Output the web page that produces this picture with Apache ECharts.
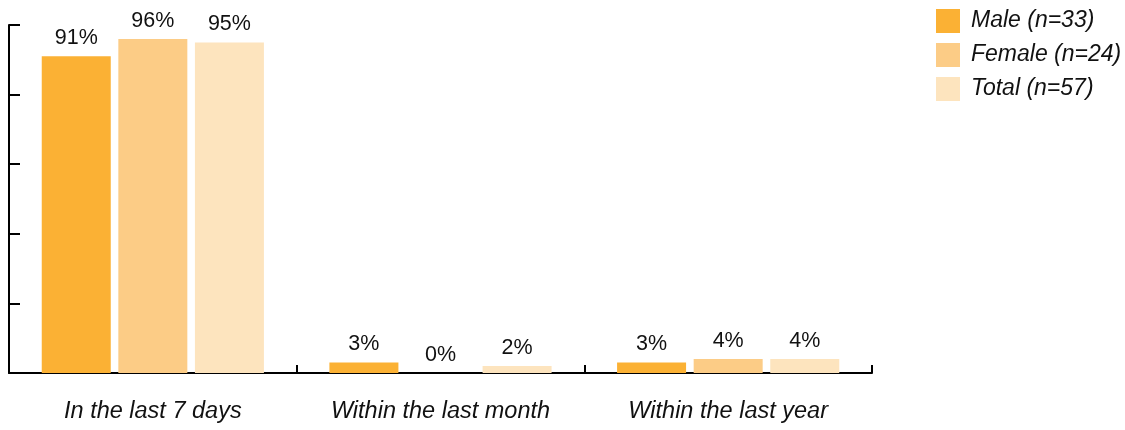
<!DOCTYPE html>
<html>
<head>
<meta charset="utf-8">
<script src="https://cdn.jsdelivr.net/npm/echarts@6/dist/echarts.min.js"></script>
<style>html,body{margin:0;padding:0;background:#fff}#c{width:1125px;height:430px}</style>
</head>
<body>
<div id="c"></div>
<script>
var categories = ['In the last 7 days', 'Within the last month', 'Within the last year'];
var seriesNames = ['Male (n=33)', 'Female (n=24)', 'Total (n=57)'];
var male = [91, 3, 3];
var female = [96, 0, 4];
var total = [95, 2, 4];
var colors = ['#FBB134', '#FCCC86', '#FDE4BE'];

var chart = echarts.init(document.getElementById('c'));
var font = 'Liberation Sans, Arial, Helvetica, sans-serif';
function mk(name, data, color) {
  return {
    name: name, type: 'bar', data: data, barWidth: 69, barGap: '11%',
    itemStyle: { color: color },
    label: { show: true, position: 'top', distance: 7, formatter: '{c}%', color: '#111', fontSize: 21.5, fontFamily: font }
  };
}
chart.setOption({
  animation: false,
  textStyle: { fontFamily: font },
  grid: { left: 9, right: 253, top: 25, bottom: 57 },
  legend: {
    orient: 'vertical', left: 936, top: 9, padding: 0, itemWidth: 24, itemHeight: 24, itemGap: 10,
    icon: 'rect',
    textStyle: { fontSize: 23, fontStyle: 'italic', color: '#111', fontFamily: font, padding: [0, 0, 0, 6] },
    data: seriesNames
  },
  xAxis: {
    type: 'category', data: categories,
    axisLine: { lineStyle: { color: '#000', width: 2 } },
    axisTick: { show: true, inside: true, length: 8, lineStyle: { color: '#000', width: 2 } },
    axisLabel: { fontSize: 23.5, fontStyle: 'italic', color: '#111', margin: 27, fontFamily: font }
  },
  yAxis: {
    type: 'value', min: 0, max: 100, interval: 20,
    axisLine: { show: true, lineStyle: { color: '#000', width: 2 } },
    axisTick: { show: true, inside: true, length: 11, lineStyle: { color: '#000', width: 2 } },
    axisLabel: { show: false },
    splitLine: { show: false }
  },
  series: [mk(seriesNames[0], male, colors[0]), mk(seriesNames[1], female, colors[1]), mk(seriesNames[2], total, colors[2])]
});
</script>
</body>
</html>
